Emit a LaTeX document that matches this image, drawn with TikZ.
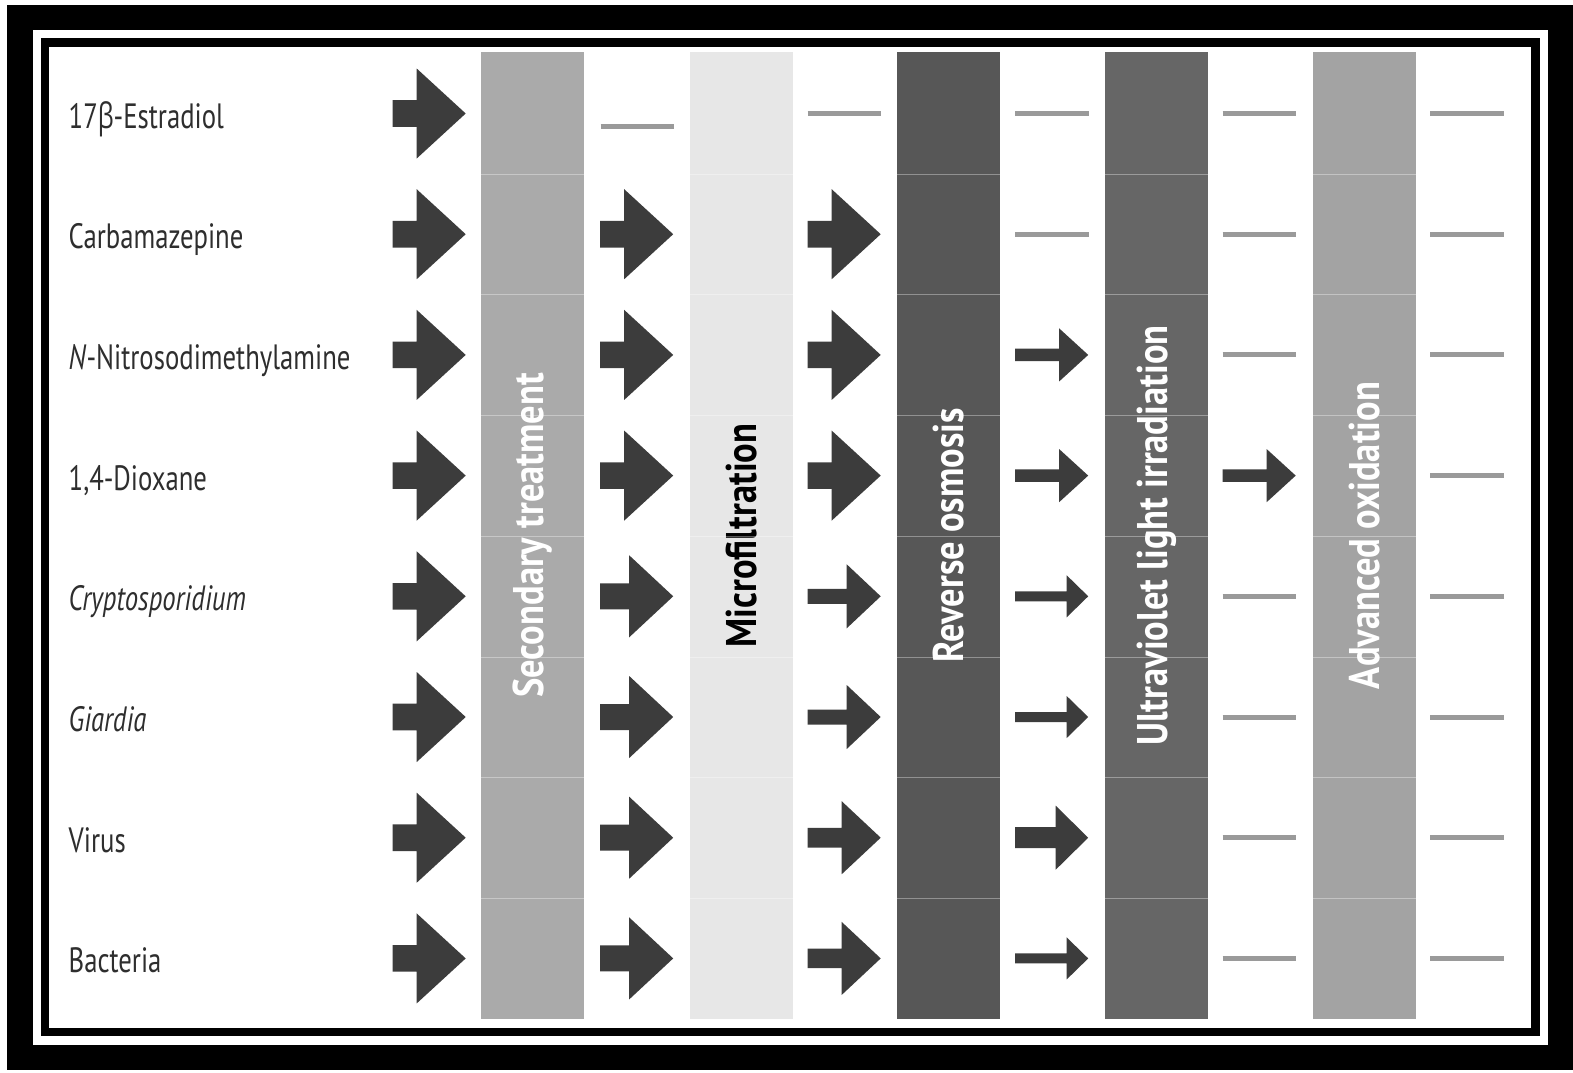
\documentclass[tikz,border=0pt]{standalone}
\usepackage{fontspec}
\setmainfont{PT Sans}[FakeStretch=0.76]
\newfontfamily\greekfont{Open Sans}[FakeStretch=0.72]
\newfontfamily\stagefont{PT Sans}[FakeStretch=0.85]
\usetikzlibrary{positioning}

\definecolor{arrowgray}{HTML}{3C3C3C}
\definecolor{dashgray}{HTML}{9A9A9A}
\definecolor{labelgray}{HTML}{2E2E2E}
\definecolor{secgray}{HTML}{AAAAAA}
\definecolor{mfgray}{HTML}{E7E7E7}
\definecolor{rogray}{HTML}{575757}
\definecolor{uvgray}{HTML}{666666}
\definecolor{aogray}{HTML}{A3A3A3}

% block arrow: x, y, head length, half head height, half shaft height
\newcommand{\flowarrow}[5]{%
  \fill[arrowgray] (#1,#2-#5) -- (#1+73-#3,#2-#5) -- (#1+73-#3,#2-#4) -- (#1+73,#2)
    -- (#1+73-#3,#2+#4) -- (#1+73-#3,#2+#5) -- (#1,#2+#5) -- cycle;}

\begin{document}
\begin{tikzpicture}[x=0.01cm, y=-0.01cm,
    rowlabel/.style={anchor=base west, inner sep=0, text=labelgray, font=\fontsize{10}{12}\selectfont},
    stage/.style={rotate=90, minimum width=9.67cm, minimum height=1.03cm, inner sep=0,
      font=\stagefont\fontsize{12.2}{14}\selectfont\bfseries, text=white},
    nodash/.style={dashgray, line width=0.05cm}]
  \useasboundingbox (0,0) rectangle (1573,1072);

  % frame
  \fill[black] (7,5) rectangle (1573,1070);
  \fill[white] (33,30) rectangle (1548,1045);
  \fill[black] (41,38) rectangle (1540,1036);
  \fill[white] (49,47) rectangle (1531,1028);

  % treatment stages
  \node[stage, fill=secgray] (secondary) at (532.5,535.5) {Secondary treatment};
  \node[stage, fill=mfgray, text=black] (micro) at (741.5,535.5) {Microfiltration};
  \node[stage, fill=rogray] (reverse) at (948.5,535.5) {Reverse osmosis};
  \node[stage, fill=uvgray] (uv) at (1156.5,535.5) {Ultraviolet light irradiation};
  \node[stage, fill=aogray] (advanced) at (1364.5,535.5) {Advanced oxidation};
  \foreach \bx in {481,690,897,1105,1313}
    \foreach \k in {1,...,7}
      \draw[white, line width=0.25pt, opacity=0.35]
        (\bx,{174.2+120.7*(\k-1)}) -- ++(103,0);

  % contaminants
  \foreach \name/\txt [count=\i] in {estradiol/{17{\greekfont β}-Estradiol},
      carbamazepine/{Carbamazepine}, ndma/{\textit{N}-Nitrosodimethylamine},
      dioxane/{1,4-Dioxane}, crypto/{\textit{Cryptosporidium}},
      giardia/{\textit{Giardia}}, virus/{Virus}, bacteria/{Bacteria}}
    \node[rowlabel] (\name) at (68,{113.5+120.7*(\i-1)+14.5}) {\txt};

  % arrows: column/row/head length/half head/half shaft
  \foreach \c/\r/\hl/\hh/\sh in {
      1/1/49/45/13.3, 1/2/49/45/13.3, 1/3/49/45/13.3, 1/4/49/45/13.3,
      1/5/49/45/13.3, 1/6/49/45/13.3, 1/7/49/45/13.3, 1/8/49/45/13.3,
      2/2/49/45/13.3, 2/3/49/45/13.3, 2/4/49/45/13.3,
      2/5/44/41/13, 2/6/44/41/13, 2/7/44/41/13, 2/8/44/41/13,
      3/2/49/45/13.3, 3/3/49/45/13.3, 3/4/49/45/13.3,
      3/5/34/32/7.5, 3/6/34/32/7.5, 3/7/39/36.5/9.8, 3/8/39/36.5/9.8,
      4/3/29/26.5/6.3, 4/4/29/26.5/6.3, 4/5/21.5/21/5, 4/6/21.5/21/5,
      4/7/32.5/32/10.5, 4/8/21.5/21/5,
      5/4/29/26.5/6.3}{
    \pgfmathsetmacro\ax{392.7+207.5*(\c-1)}
    \pgfmathsetmacro\ay{113.5+120.7*(\r-1)}
    \flowarrow{\ax}{\ay}{\hl}{\hh}{\sh}
  }

  % no removal
  \draw[nodash] (600.7,126.5) -- ++(73.5,0);
  \foreach \c/\r in {3/1, 4/1, 5/1, 6/1, 4/2, 5/2, 6/2, 5/3, 6/3, 6/4,
      5/5, 6/5, 5/6, 6/6, 5/7, 6/7, 5/8, 6/8}
    \draw[nodash] ({392.7+207.5*(\c-1)},{113.5+120.7*(\r-1)}) -- ++(73.5,0);
\end{tikzpicture}
\end{document}
